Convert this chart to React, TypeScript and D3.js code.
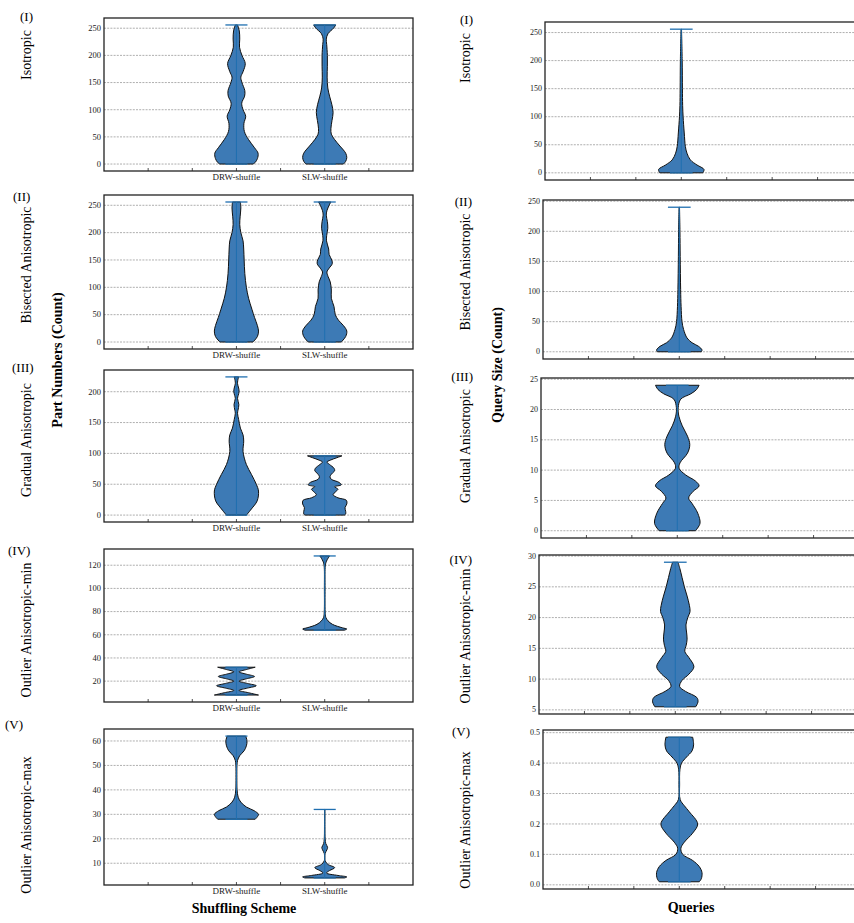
import React, { useEffect, useRef } from "react";
import * as d3 from "d3";

// violin outlines: [value, width relative to the widest point]
const isoDRW = [[256, 0.05], [245, 0.13], [230, 0.15], [215, 0.14], [200, 0.25], [185, 0.4], [170, 0.3], [160, 0.2], [150, 0.25], [135, 0.38], [125, 0.37], [112, 0.24], [100, 0.3], [88, 0.42], [75, 0.34], [60, 0.36], [45, 0.55], [30, 0.82], [20, 0.98], [10, 0.95], [3, 0.85], [0, 0.75]];
const isoSLW = [[256, 0.5], [250, 0.4], [240, 0.15], [230, 0.07], [220, 0.09], [200, 0.12], [180, 0.12], [160, 0.11], [140, 0.14], [125, 0.22], [110, 0.32], [95, 0.38], [80, 0.33], [65, 0.28], [55, 0.3], [45, 0.45], [35, 0.65], [20, 0.95], [12, 1.0], [5, 0.95], [0, 0.85]];
const isoQ = [[256, 0.01], [200, 0.04], [150, 0.05], [120, 0.06], [100, 0.08], [71, 0.13], [47, 0.18], [35, 0.25], [23, 0.4], [14, 0.69], [6, 1.0], [0, 0.95]];

const bisDRW = [[256, 0.18], [245, 0.2], [230, 0.17], [215, 0.15], [200, 0.2], [185, 0.3], [170, 0.33], [150, 0.35], [125, 0.38], [100, 0.45], [80, 0.55], [60, 0.7], [45, 0.82], [30, 0.95], [20, 1.0], [10, 0.95], [0, 0.75]];
const bisSLW = [[256, 0.28], [250, 0.2], [240, 0.1], [232, 0.07], [220, 0.12], [208, 0.14], [195, 0.09], [185, 0.08], [170, 0.18], [160, 0.2], [150, 0.32], [143, 0.34], [135, 0.2], [128, 0.1], [120, 0.15], [110, 0.25], [95, 0.3], [80, 0.3], [65, 0.42], [50, 0.48], [40, 0.62], [30, 0.85], [20, 1.0], [10, 0.95], [0, 0.75]];
const bisQ = [[240, 0.01], [200, 0.03], [158, 0.04], [103, 0.06], [75, 0.08], [50, 0.12], [37, 0.19], [23, 0.34], [15, 0.56], [9, 0.85], [3, 1.0], [0, 0.97]];

const gradDRW = [[224, 0.1], [218, 0.06], [213, 0.05], [206, 0.1], [200, 0.12], [194, 0.08], [189, 0.05], [179, 0.11], [170, 0.07], [165, 0.05], [155, 0.1], [141, 0.18], [130, 0.3], [120, 0.33], [103, 0.3], [82, 0.45], [66, 0.68], [50, 0.9], [39, 1.0], [23, 0.94], [10, 0.68], [2, 0.5], [0, 0.45]];
const gradSLW = [[96, 0.78], [93, 0.55], [89, 0.25], [86, 0.1], [82, 0.22], [76, 0.42], [72, 0.45], [67, 0.32], [62, 0.24], [58, 0.3], [53, 0.65], [49, 0.75], [46, 0.45], [42, 0.6], [38, 0.5], [33, 0.38], [28, 0.6], [24, 0.98], [18, 1.0], [12, 0.92], [6, 0.95], [2, 0.95], [0, 0.9]];
const gradQ = [[24, 0.96], [23.3, 0.85], [22.6, 0.6], [21.7, 0.15], [20.3, 0.04], [18.9, 0.07], [17.3, 0.22], [15.6, 0.45], [14.2, 0.55], [12.8, 0.45], [11.2, 0.12], [10.3, 0.08], [9.2, 0.37], [8.2, 0.8], [7.4, 0.96], [6.5, 0.7], [5.4, 0.5], [4.5, 0.65], [2.9, 0.9], [1.2, 1.0], [0, 0.8]];

const minDRW = [[32, 0.85], [30, 0.45], [28, 0.12], [26, 0.45], [24, 0.82], [22, 0.45], [20, 0.12], [18, 0.5], [16, 0.9], [14, 0.5], [12, 0.12], [10, 0.55], [8, 1.0]];
const minSLW = [[128, 0.22], [125, 0.12], [122, 0.05], [118, 0.02], [100, 0.015], [80, 0.02], [75, 0.05], [72, 0.15], [69, 0.35], [66, 0.8], [65, 1.0], [64, 0.9]];
const minQ = [[29, 0.12], [28, 0.2], [26.5, 0.3], [25, 0.4], [23.5, 0.52], [22, 0.62], [21, 0.65], [20, 0.55], [18.8, 0.47], [17.5, 0.5], [16.5, 0.52], [15.5, 0.48], [14.5, 0.42], [13.5, 0.6], [12, 0.82], [10.8, 0.6], [9.8, 0.3], [8.8, 0.19], [8, 0.45], [7, 0.95], [6.3, 1.0], [5.5, 0.9]];

const maxDRW = [[62, 0.42], [60, 0.48], [58, 0.45], [56, 0.35], [54, 0.15], [52, 0.05], [50, 0.025], [45, 0.02], [40, 0.03], [37, 0.08], [35, 0.2], [33, 0.45], [31.5, 0.8], [30, 1.0], [29, 0.95], [28, 0.85]];
const maxSLW = [[32, 0.01], [25, 0.01], [20, 0.02], [18, 0.05], [16.5, 0.13], [15.5, 0.1], [14, 0.02], [11, 0.02], [9.5, 0.15], [8.2, 0.45], [7, 0.22], [6, 0.08], [5, 0.6], [4.4, 1.0], [4, 0.9]];
const maxQ = [[0.485, 0.59], [0.46, 0.63], [0.44, 0.56], [0.42, 0.32], [0.4, 0.1], [0.38, 0.03], [0.33, 0.015], [0.28, 0.04], [0.26, 0.22], [0.24, 0.44], [0.2, 0.81], [0.17, 0.59], [0.14, 0.22], [0.12, 0.07], [0.1, 0.15], [0.08, 0.59], [0.06, 0.88], [0.04, 1.0], [0.02, 0.97], [0.01, 0.88]];

const leftCats = ["DRW-shuffle", "SLW-shuffle"];
const leftPos = [3, 5];
const rightPos = [3];

const rowNumerals = ["(I)", "(II)", "(III)", "(IV)", "(V)"];
const rowNames = ["Isotropic", "Bisected Anisotropic", "Gradual Anisotropic", "Outlier Anisotropic-min", "Outlier Anisotropic-max"];

const leftViolins = [[isoDRW, isoSLW], [bisDRW, bisSLW], [gradDRW, gradSLW], [minDRW, minSLW], [maxDRW, maxSLW]];
const rightViolins = [[isoQ], [bisQ], [gradQ], [minQ], [maxQ]];

const leftTicks = [[0, 50, 100, 150, 200, 250], [0, 50, 100, 150, 200, 250], [0, 50, 100, 150, 200], [20, 40, 60, 80, 100, 120], [10, 20, 30, 40, 50, 60]];
const rightTicks = [[0, 50, 100, 150, 200, 250], [0, 50, 100, 150, 200, 250], [0, 5, 10, 15, 20, 25], [5, 10, 15, 20, 25, 30], [0, 0.1, 0.2, 0.3, 0.4, 0.5]];

const W = 854, H = 923;
const SERIF = "'Liberation Serif', 'DejaVu Serif', serif";
const FILL = "#3d7ab5";
const LINE = "#1f6fb0";

const leftBoxes = [
	{ x0: 104, top: 18, bottom: 171 },
	{ x0: 104, top: 195, bottom: 349 },
	{ x0: 104, top: 370, bottom: 522 },
	{ x0: 104, top: 549, bottom: 702 },
	{ x0: 104, top: 729, bottom: 885 }
];
const rightBoxes = [
	{ x0: 545, top: 22, bottom: 180 },
	{ x0: 543, top: 200, bottom: 359 },
	{ x0: 541, top: 378, bottom: 538 },
	{ x0: 539, top: 555, bottom: 714 },
	{ x0: 543, top: 730, bottom: 889 }
];

const drawPanel = (svg, box, width, violins, positions, ticks, cats, fmt, fs) => {
	const g = svg.append("g");
	const x = d3.scaleLinear().domain([0, 7]).range([box.x0, box.x0 + width]);
	const all = violins.flat().map(d => d[0]);
	const lo = d3.min(all), hi = d3.max(all);
	const pad = (hi - lo) * 0.05;
	const y = d3.scaleLinear().domain([lo - pad, hi + pad]).range([box.bottom, box.top]);

	// grid
	g.selectAll(".grid")
		.data(ticks)
		.enter()
		.append("line")
		.attr("x1", x(0)).attr("x2", x(7))
		.attr("y1", d => y(d)).attr("y2", d => y(d))
		.attr("stroke", "#9a9a9a")
		.attr("stroke-width", 0.8)
		.attr("stroke-dasharray", "2,1.2");

	g.selectAll(".ytick")
		.data(ticks)
		.enter()
		.append("text")
		.attr("x", x(0) - 3)
		.attr("y", d => y(d))
		.attr("dy", "0.33em")
		.attr("text-anchor", "end")
		.attr("font-family", SERIF)
		.attr("font-size", fs)
		.attr("fill", "#222")
		.text(d => fmt(d));

	// x ticks pointing inward
	g.selectAll(".xtick")
		.data([1, 2, 3, 4, 5, 6])
		.enter()
		.append("line")
		.attr("x1", d => x(d)).attr("x2", d => x(d))
		.attr("y1", box.bottom).attr("y2", box.bottom - 3)
		.attr("stroke", "#222")
		.attr("stroke-width", 0.8);

	if (cats) {
		g.selectAll(".xlab")
			.data(cats)
			.enter()
			.append("text")
			.attr("x", (d, i) => x(positions[i]))
			.attr("y", box.bottom + 8.5)
			.attr("text-anchor", "middle")
			.attr("font-family", SERIF)
			.attr("font-size", 9)
			.attr("fill", "#222")
			.text(d => d);
	}

	violins.forEach((prof, i) => {
		const p = positions[i];
		const area = d3.area()
			.y(d => y(d[0]))
			.x0(d => x(p - d[1] * 0.5))
			.x1(d => x(p + d[1] * 0.5))
			.curve(d3.curveCatmullRom.alpha(0.5));
		g.append("path")
			.attr("d", area(prof))
			.attr("fill", FILL)
			.attr("stroke", "#111")
			.attr("stroke-width", 1);

		const vmin = d3.min(prof, d => d[0]), vmax = d3.max(prof, d => d[0]);
		g.append("line")
			.attr("x1", x(p)).attr("x2", x(p))
			.attr("y1", y(vmin)).attr("y2", y(vmax))
			.attr("stroke", LINE)
			.attr("stroke-width", 1);
		[vmin, vmax].forEach(v => {
			g.append("line")
				.attr("x1", x(p - 0.25)).attr("x2", x(p + 0.25))
				.attr("y1", y(v)).attr("y2", y(v))
				.attr("stroke", LINE)
				.attr("stroke-width", 1.3);
		});
	});

	g.append("rect")
		.attr("x", x(0))
		.attr("y", box.top)
		.attr("width", x(7) - x(0))
		.attr("height", box.bottom - box.top)
		.attr("fill", "none")
		.attr("stroke", "#222")
		.attr("stroke-width", 1.3);
};

export default function App() {
	const ref = useRef(null);

	useEffect(() => {
		const svg = d3.select(ref.current);
		svg.selectAll("*").remove();

		svg.append("rect").attr("width", W).attr("height", H).attr("fill", "#fff");

		const f0 = d3.format("d");
		const f1 = d3.format(".1f");

		leftBoxes.forEach((box, i) => {
			drawPanel(svg, box, 309, leftViolins[i], leftPos, leftTicks[i], leftCats, f0, 8.5);
		});
		rightBoxes.forEach((box, i) => {
			drawPanel(svg, box, 318, rightViolins[i], rightPos, rightTicks[i], null, i === 4 ? f1 : f0, 8);
		});

		// row labels
		const numL = [[20, 21], [13, 201], [12, 372], [8, 555], [5, 729]];
		const nameL = [55, 265, 440, 630, 825];
		const numR = [[473, 24], [472, 206], [473, 381], [472, 564], [470, 736]];
		const nameR = [58, 272, 446, 636, 820];

		rowNumerals.forEach((t, i) => {
			svg.append("text")
				.attr("x", numL[i][0]).attr("y", numL[i][1])
				.attr("font-family", SERIF).attr("font-size", 13)
				.text(t);
			svg.append("text")
				.attr("x", numR[i][0]).attr("y", numR[i][1])
				.attr("text-anchor", "end")
				.attr("font-family", SERIF).attr("font-size", 13)
				.text(t);
		});
		rowNames.forEach((t, i) => {
			svg.append("text")
				.attr("transform", "translate(31," + nameL[i] + ")rotate(-90)")
				.attr("text-anchor", "middle")
				.attr("font-family", SERIF).attr("font-size", 14)
				.text(t);
			svg.append("text")
				.attr("transform", "translate(470," + nameR[i] + ")rotate(-90)")
				.attr("text-anchor", "middle")
				.attr("font-family", SERIF).attr("font-size", 14)
				.text(t);
		});

		// shared axis titles
		svg.append("text")
			.attr("transform", "translate(62,360)rotate(-90)")
			.attr("text-anchor", "middle")
			.attr("font-family", SERIF).attr("font-size", 14).attr("font-weight", "bold")
			.text("Part Numbers (Count)");
		svg.append("text")
			.attr("transform", "translate(502,365)rotate(-90)")
			.attr("text-anchor", "middle")
			.attr("font-family", SERIF).attr("font-size", 14).attr("font-weight", "bold")
			.text("Query Size (Count)");
		svg.append("text")
			.attr("x", 244).attr("y", 913)
			.attr("text-anchor", "middle")
			.attr("font-family", SERIF).attr("font-size", 14).attr("font-weight", "bold")
			.text("Shuffling Scheme");
		svg.append("text")
			.attr("x", 691).attr("y", 912)
			.attr("text-anchor", "middle")
			.attr("font-family", SERIF).attr("font-size", 14).attr("font-weight", "bold")
			.text("Queries");
	}, []);

	return (
		<svg
			ref={ref}
			width={W}
			height={H}
			style={{ position: "absolute", left: 0, top: 0 }}
		/>
	);
}
